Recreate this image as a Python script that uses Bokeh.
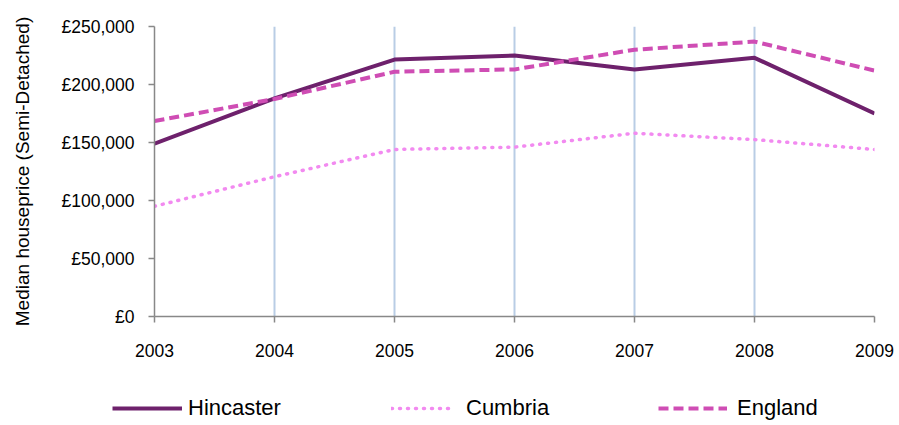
from bokeh.plotting import figure
from bokeh.models import FixedTicker, Range1d, Legend, LegendItem
from bokeh.layouts import column
from bokeh.embed import file_html
from bokeh.resources import INLINE

years = [2003, 2004, 2005, 2006, 2007, 2008, 2009]
hincaster = [149000, 188000, 221500, 225000, 213000, 223000, 175000]
cumbria = [95000, 120500, 144000, 146000, 158000, 152500, 144000]
england = [168500, 187500, 211000, 213000, 230000, 237000, 212000]
y_ticks = [0, 50000, 100000, 150000, 200000, 250000]
y_tick_labels = ["£0", "£50,000", "£100,000", "£150,000", "£200,000", "£250,000"]
series_names = ["Hincaster", "Cumbria", "England"]

FONT = "Liberation Sans"
styles = [
    dict(line_color="#6E216C", line_width=4),
    dict(line_color="#F28AF0", line_width=3.5, line_dash="1 7", line_cap="round"),
    dict(line_color="#CF4DB4", line_width=4, line_dash="10 5"),
]

p = figure(width=897, height=372, output_backend="svg", toolbar_location=None,
           x_range=Range1d(2003, 2009), y_range=Range1d(0, 250000),
           min_border_left=154, min_border_right=23, min_border_top=26, min_border_bottom=56)
p.outline_line_color = None
p.frame_align = False

# grids
p.ygrid.grid_line_color = None
p.xgrid.grid_line_color = "#B9CDE5"
p.xgrid.grid_line_width = 2
p.xgrid.ticker = FixedTicker(ticks=years)

# axes
p.xaxis.ticker = FixedTicker(ticks=years)
p.yaxis.ticker = FixedTicker(ticks=y_ticks)
p.yaxis.major_label_overrides = {t: l for t, l in zip(y_ticks, y_tick_labels)}
p.xaxis.major_label_overrides = {y: str(y) for y in years}
for ax in (p.xaxis[0], p.yaxis[0]):
    ax.axis_line_color = "#888888"
    ax.axis_line_width = 1.5
    ax.major_tick_line_color = "#888888"
    ax.major_tick_line_width = 1.5
    ax.major_tick_in = 0
    ax.major_tick_out = 6
    ax.minor_tick_line_color = None
    ax.major_label_text_font = FONT
    ax.major_label_text_font_size = "17.5px"
    ax.major_label_text_color = "#000000"
p.xaxis.major_label_standoff = 21
p.yaxis.major_label_standoff = 14
p.yaxis.axis_label = "Median houseprice (Semi-Detached)"
p.yaxis.axis_label_text_font = FONT
p.yaxis.axis_label_text_font_size = "19px"
p.yaxis.axis_label_text_font_style = "normal"
p.yaxis.axis_label_text_color = "#000000"
p.yaxis.axis_label_standoff = 26

series = [hincaster, cumbria, england]
for vals, st in zip(series, styles):
    p.line(years, vals, **st)

# legend strip underneath (its own ranges keep the series lines out of view)
lf = figure(width=897, height=51, output_backend="svg", toolbar_location=None,
            x_axis_location=None, y_axis_location=None, min_border=0,
            x_range=Range1d(0, 1), y_range=Range1d(0, 1))
lf.outline_line_color = None
lf.frame_align = False
lf.xgrid.visible = False
lf.ygrid.visible = False

legend_x = [112, 391, 658]
glyph_w = [70, 60, 69]
standoff = [6, 15, 10]
for name, vals, st, lx, gw, so in zip(series_names, series, styles, legend_x, glyph_w, standoff):
    r = lf.line(years, vals, **st)
    lg = Legend(items=[LegendItem(label=name, renderers=[r])], location=(lx, 2),
                border_line_color=None, background_fill_alpha=0,
                padding=0, margin=0, glyph_width=gw, glyph_height=22, label_height=22,
                label_standoff=so, label_text_font=FONT, label_text_font_size="22px",
                label_text_color="#000000")
    lf.add_layout(lg, "center")

layout = column(p, lf, spacing=0)
open("out.html", "w").write(file_html(layout, INLINE))
